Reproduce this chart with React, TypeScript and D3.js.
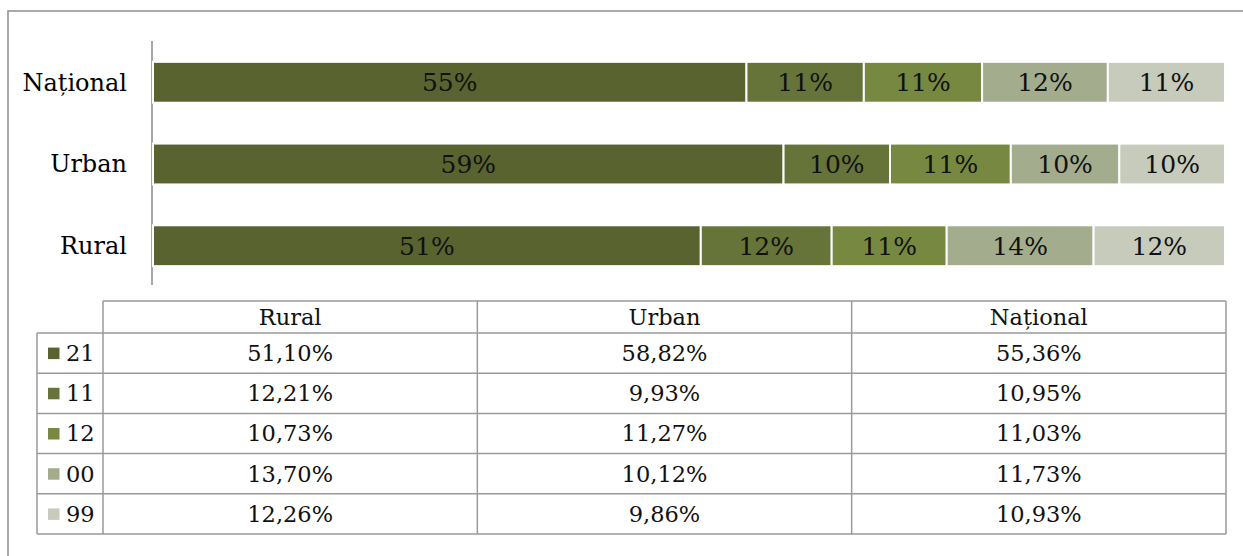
import React from "react";
import * as d3 from "d3";

// date
const categorii = ["Național", "Urban", "Rural"];
const coloaneTabel = ["Rural", "Urban", "Național"];
const serii = ["21", "11", "12", "00", "99"];
const culori = ["#58632F", "#66743A", "#778840", "#A4AC8E", "#C7CBBB"];

// valori pe coloane: Rural, Urban, Național
const v21 = [51.1, 58.82, 55.36];
const v11 = [12.21, 9.93, 10.95];
const v12 = [10.73, 11.27, 11.03];
const v00 = [13.7, 10.12, 11.73];
const v99 = [12.26, 9.86, 10.93];
const valori = [v21, v11, v12, v00, v99];

const W = 1243;
const H = 556;
const font = "'DejaVu Serif', serif";

const fmt = (v: number) => v.toFixed(2).replace(".", ",") + "%";

const App = () => {
  const x = d3.scaleLinear().domain([0, 100]).range([153, 1225]);
  const y = d3
    .scaleBand<string>()
    .domain(categorii)
    .range([21, 307])
    .padding(0.5);

  // stivuire pentru fiecare categorie
  const bare = categorii.map((cat) => {
    const col = coloaneTabel.indexOf(cat);
    let acc = 0;
    return serii.map((s, i) => {
      const v = valori[i][col];
      const seg = { cat, serie: s, i, x0: acc, x1: acc + v, v };
      acc += v;
      return seg;
    });
  });

  // tabel
  const colX = d3
    .scaleBand<string>()
    .domain(coloaneTabel)
    .range([103, 1226]);
  const tabStanga = 37;
  const antetSus = 301;
  const antetJos = 333;
  const rand = d3
    .scaleBand<string>()
    .domain(serii)
    .range([antetJos, antetJos + 5 * 40.2]);
  const gri = "#9a9a9a";

  return (
    <svg
      width={W}
      height={H}
      style={{ position: "absolute", left: 0, top: 0, background: "#fff" }}
    >
      <rect x={8} y={11} width={1260} height={600} fill="none" stroke="#8e8e8e" strokeWidth={1.5} />

      {/* axa verticala */}
      <line x1={152} x2={152} y1={41} y2={285} stroke="#8a8a8a" strokeWidth={1.5} />

      {categorii.map((c) => (
        <text
          key={c}
          x={127}
          y={(y(c) ?? 0) + y.bandwidth() / 2}
          dy="0.35em"
          textAnchor="end"
          fontFamily={font}
          fontSize={24}
        >
          {c}
        </text>
      ))}

      {bare.map((grup) =>
        grup.map((d) => (
          <g key={d.cat + d.serie}>
            <rect
              x={x(d.x0)}
              y={y(d.cat)}
              width={x(d.x1) - x(d.x0)}
              height={y.bandwidth()}
              fill={culori[d.i]}
              stroke="#fff"
              strokeWidth={2}
            />
            <text
              x={(x(d.x0) + x(d.x1)) / 2}
              y={(y(d.cat) ?? 0) + y.bandwidth() / 2}
              dy="0.36em"
              textAnchor="middle"
              fontFamily={font}
              fontSize={25}
              fill="#111"
            >
              {Math.round(d.v) + "%"}
            </text>
          </g>
        ))
      )}

      {/* tabel de date */}
      <g fontFamily={font} fontSize={22.5} fill="#111">
        {/* linii orizontale */}
        <line x1={103} x2={1226} y1={antetSus} y2={antetSus} stroke={gri} strokeWidth={1.5} />
        {serii.map((s) => (
          <line
            key={"h" + s}
            x1={tabStanga}
            x2={1226}
            y1={rand(s)}
            y2={rand(s)}
            stroke={gri}
            strokeWidth={1.5}
          />
        ))}
        <line
          x1={tabStanga}
          x2={1226}
          y1={rand.range()[1]}
          y2={rand.range()[1]}
          stroke={gri}
          strokeWidth={1.5}
        />
        {/* linii verticale */}
        <line x1={tabStanga} x2={tabStanga} y1={antetJos} y2={rand.range()[1]} stroke={gri} strokeWidth={1.5} />
        {coloaneTabel.map((c) => (
          <line
            key={"v" + c}
            x1={colX(c)}
            x2={colX(c)}
            y1={antetSus}
            y2={rand.range()[1]}
            stroke={gri}
            strokeWidth={1.5}
          />
        ))}
        <line x1={1226} x2={1226} y1={antetSus} y2={rand.range()[1]} stroke={gri} strokeWidth={1.5} />

        {coloaneTabel.map((c) => (
          <text
            key={"t" + c}
            x={(colX(c) ?? 0) + colX.bandwidth() / 2}
            y={(antetSus + antetJos) / 2}
            dy="0.35em"
            textAnchor="middle"
          >
            {c}
          </text>
        ))}

        {serii.map((s, i) => (
          <g key={"r" + s}>
            <rect
              x={48}
              y={(rand(s) ?? 0) + rand.bandwidth() / 2 - 5.5}
              width={11.5}
              height={11.5}
              fill={culori[i]}
            />
            <text x={66} y={(rand(s) ?? 0) + rand.bandwidth() / 2} dy="0.35em">
              {s}
            </text>
            {coloaneTabel.map((c, j) => (
              <text
                key={c}
                x={(colX(c) ?? 0) + colX.bandwidth() / 2}
                y={(rand(s) ?? 0) + rand.bandwidth() / 2}
                dy="0.35em"
                textAnchor="middle"
              >
                {fmt(valori[i][j])}
              </text>
            ))}
          </g>
        ))}
      </g>
    </svg>
  );
};

export default App;
